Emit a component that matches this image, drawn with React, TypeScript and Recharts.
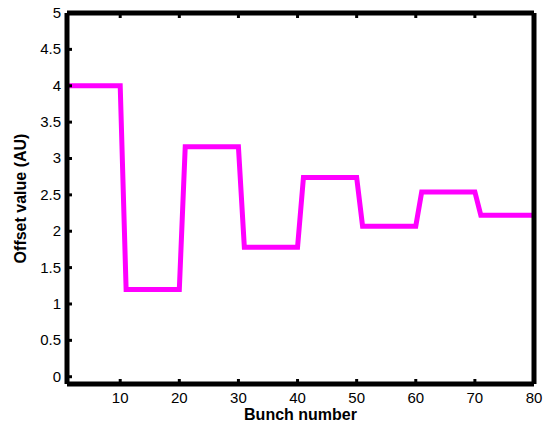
import { LineChart, Line, XAxis, YAxis, Label } from 'recharts'

// offset per bunch, 10 bunches per train level
const bunches = [
  1, 2, 3, 4, 5, 6, 7, 8, 9, 10,
  11, 12, 13, 14, 15, 16, 17, 18, 19, 20,
  21, 22, 23, 24, 25, 26, 27, 28, 29, 30,
  31, 32, 33, 34, 35, 36, 37, 38, 39, 40,
  41, 42, 43, 44, 45, 46, 47, 48, 49, 50,
  51, 52, 53, 54, 55, 56, 57, 58, 59, 60,
  61, 62, 63, 64, 65, 66, 67, 68, 69, 70,
  71, 72, 73, 74, 75, 76, 77, 78, 79, 80,
]
const offsets = [
  4, 4, 4, 4, 4, 4, 4, 4, 4, 4,
  1.2, 1.2, 1.2, 1.2, 1.2, 1.2, 1.2, 1.2, 1.2, 1.2,
  3.16, 3.16, 3.16, 3.16, 3.16, 3.16, 3.16, 3.16, 3.16, 3.16,
  1.78, 1.78, 1.78, 1.78, 1.78, 1.78, 1.78, 1.78, 1.78, 1.78,
  2.74, 2.74, 2.74, 2.74, 2.74, 2.74, 2.74, 2.74, 2.74, 2.74,
  2.07, 2.07, 2.07, 2.07, 2.07, 2.07, 2.07, 2.07, 2.07, 2.07,
  2.54, 2.54, 2.54, 2.54, 2.54, 2.54, 2.54, 2.54, 2.54, 2.54,
  2.22, 2.22, 2.22, 2.22, 2.22, 2.22, 2.22, 2.22, 2.22, 2.22,
]
const xTicks = [10, 20, 30, 40, 50, 60, 70, 80]
const yTicks = [0, 0.5, 1, 1.5, 2, 2.5, 3, 3.5, 4, 4.5, 5]

const data = bunches.map((b, i) => ({ bunch: b, offset: offsets[i] }))

const FONT = '"Liberation Sans", Arial, sans-serif'

const BottomTick = (props: any) => {
  const { x, y, payload } = props
  return (
    <g>
      <line x1={x} y1={y} x2={x} y2={y - 5} stroke="#000" strokeWidth={3} />
      <text x={x} y={y + 19} textAnchor="middle" fontSize={15} fontFamily={FONT} fill="#000">
        {payload.value}
      </text>
    </g>
  )
}

const TopTick = (props: any) => {
  const { x, y } = props
  return <line x1={x} y1={y} x2={x} y2={y + 5} stroke="#000" strokeWidth={3} />
}

const LeftTick = (props: any) => {
  const { x, y, payload } = props
  return (
    <g>
      <line x1={x} y1={y} x2={x + 5} y2={y} stroke="#000" strokeWidth={3} />
      <text x={x - 6} y={y + 5} textAnchor="end" fontSize={15} fontFamily={FONT} fill="#000">
        {payload.value}
      </text>
    </g>
  )
}

const RightTick = (props: any) => {
  const { x, y } = props
  return <line x1={x} y1={y} x2={x - 5} y2={y} stroke="#000" strokeWidth={3} />
}

export default function App() {
  return (
    <div style={{ position: 'absolute', left: 0, top: 0, background: '#fff' }}>
      <LineChart
        width={545}
        height={425}
        data={data}
        margin={{ top: 0, right: 0, left: 10, bottom: 11 }}
      >
        <XAxis
          xAxisId="bottom"
          dataKey="bunch"
          type="number"
          domain={[1, 80]}
          ticks={xTicks}
          tickSize={0}
          tickMargin={0}
          tick={<BottomTick />}
          tickLine={false}
          axisLine={{ stroke: '#000', strokeWidth: 5 }}
          height={30}
        >
          <Label
            content={({ viewBox }: any) => (
              <text
                x={viewBox.x + viewBox.width / 2}
                y={viewBox.y + 36}
                textAnchor="middle"
                fontSize={16}
                fontWeight="bold"
                fontFamily={FONT}
                fill="#000"
              >
                Bunch number
              </text>
            )}
          />
        </XAxis>
        <XAxis
          xAxisId="top"
          orientation="top"
          dataKey="bunch"
          type="number"
          domain={[1, 80]}
          ticks={xTicks}
          tickSize={0}
          tickMargin={0}
          tick={<TopTick />}
          tickLine={false}
          axisLine={{ stroke: '#000', strokeWidth: 5 }}
          height={13}
        />
        <YAxis
          yAxisId="left"
          type="number"
          domain={[-0.1, 5]}
          ticks={yTicks}
          tickSize={0}
          tickMargin={0}
          tick={<LeftTick />}
          tickLine={false}
          axisLine={{ stroke: '#000', strokeWidth: 5 }}
          width={57}
        >
          <Label
            content={({ viewBox }: any) => {
              const cx = 26
              const cy = viewBox.y + viewBox.height / 2
              return (
                <text
                  x={cx}
                  y={cy}
                  transform={`rotate(-90 ${cx} ${cy})`}
                  textAnchor="middle"
                  fontSize={16}
                  fontWeight="bold"
                  fontFamily={FONT}
                  fill="#000"
                >
                  Offset value (AU)
                </text>
              )
            }}
          />
        </YAxis>
        <YAxis
          yAxisId="right"
          orientation="right"
          type="number"
          domain={[-0.1, 5]}
          ticks={yTicks}
          tickSize={0}
          tickMargin={0}
          tick={<RightTick />}
          tickLine={false}
          axisLine={{ stroke: '#000', strokeWidth: 5 }}
          width={11}
        />
        <Line
          xAxisId="bottom"
          yAxisId="left"
          type="linear"
          dataKey="offset"
          stroke="#ff00ff"
          strokeWidth={5}
          dot={false}
          isAnimationActive={false}
        />
      </LineChart>
    </div>
  )
}
